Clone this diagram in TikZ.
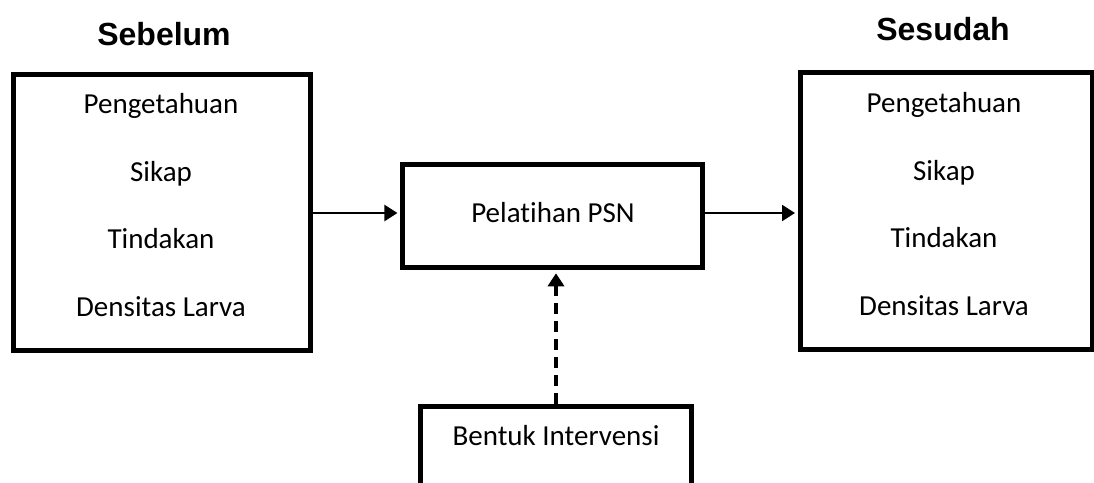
\documentclass[tikz,border=0pt]{standalone}
\usepackage{fontspec}
\setmainfont{Carlito}
\newfontfamily\titlefont{Liberation Sans}
\usepackage{tikz}
\usetikzlibrary{arrows.meta,calc}

\begin{document}
\begin{tikzpicture}[x=1pt,y=-1pt,
  box/.style={draw,line width=5pt,inner sep=0pt},
  lbl/.style={anchor=base,inner sep=0pt,font=\fontsize{29}{35}\selectfont},
  ttl/.style={anchor=base,inner sep=0pt,font=\titlefont\bfseries\fontsize{32}{38}\selectfont},
  arr/.style={line width=2.3pt,-{Triangle[length=13pt,width=16pt]}}]
\useasboundingbox (0,0) rectangle (1094,482);
\clip (0,0) rectangle (1094,482);
% kotak
\node[box,minimum width=297pt,minimum height=276pt] (before) at (161.5,212) {};
\node[box,minimum width=300.5pt,minimum height=103.5pt] (pelatihan) at (552.7,216) {};
\node[box,minimum width=292pt,minimum height=277.5pt] (after) at (946,211) {};
\node[box,minimum width=270.5pt,minimum height=100pt] (intervensi) at (556,456) {};
% judul
\node[ttl] (tsebelum) at (164,45) {Sebelum};
\node[ttl] (tsesudah) at (943,40) {Sesudah};
% isi
\node[lbl] (b1) at (161,113) {Pengetahuan};
\node[lbl] (b2) at (161,181) {Sikap};
\node[lbl] (b3) at (161,248) {Tindakan};
\node[lbl] (b4) at (161,316) {Densitas Larva};
\node[lbl] (a1) at (944,112) {Pengetahuan};
\node[lbl] (a2) at (944,180) {Sikap};
\node[lbl] (a3) at (944,247) {Tindakan};
\node[lbl] (a4) at (944,315) {Densitas Larva};
\node[lbl] (p1) at (553,222) {Pelat\kern0pt ihan PSN};
\node[lbl] (i1) at (556,445) {Bentuk Intervensi};
% panah
\draw[arr,shorten >=2.5pt] (before.east |- 0,213) -- (pelatihan.west |- 0,213);
\draw[arr,shorten >=2.5pt] (pelatihan.east |- 0,213) -- (after.west |- 0,213);
\draw[arr,line width=3.3pt,dash pattern=on 11pt off 7pt,shorten >=3pt] (intervensi.north) -- (intervensi.north |- pelatihan.south);
\end{tikzpicture}
\end{document}
